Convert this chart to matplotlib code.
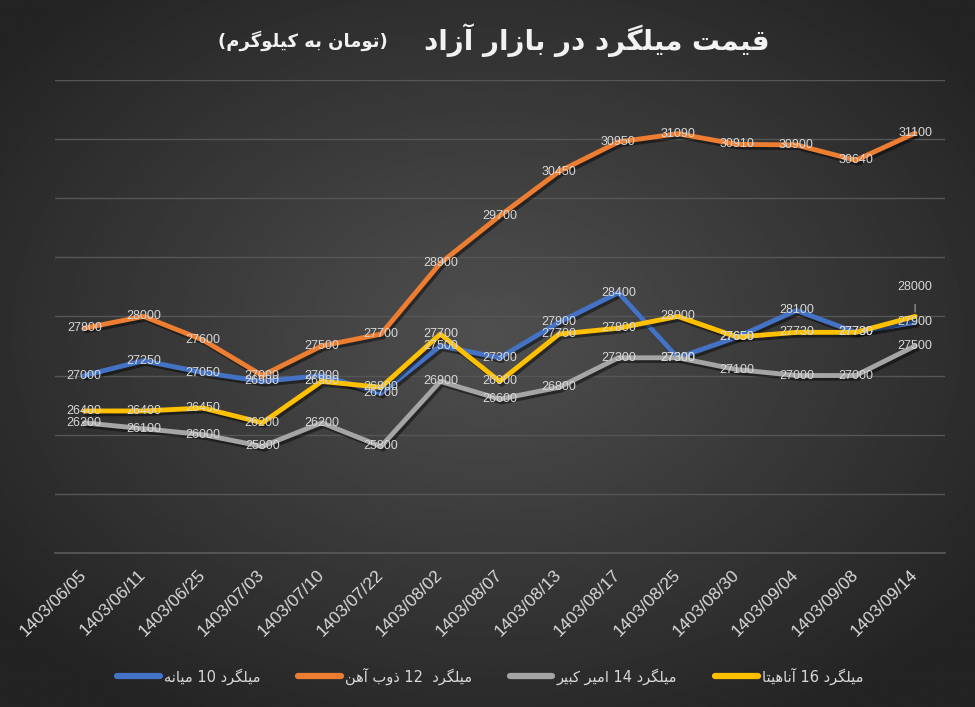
import matplotlib
matplotlib.use('Agg')
import numpy as np
import matplotlib.pyplot as plt
import matplotlib.patheffects as pe
from matplotlib.lines import Line2D

dates = ['1403/06/05', '1403/06/11', '1403/06/25', '1403/07/03', '1403/07/10',
         '1403/07/22', '1403/08/02', '1403/08/07', '1403/08/13', '1403/08/17',
         '1403/08/25', '1403/08/30', '1403/09/04', '1403/09/08', '1403/09/14']

mianeh_10 = [27000, 27250, 27050, 26900, 27000, 26700, 27500, 27300, 27900, 28400,
             27300, 27650, 28100, 27730, 27900]
zob_ahan_12 = [27800, 28000, 27600, 27000, 27500, 27700, 28900, 29700, 30450, 30950,
               31090, 30910, 30900, 30640, 31100]
amir_kabir_14 = [26200, 26100, 26000, 25800, 26200, 25800, 26900, 26600, 26800, 27300,
                 27300, 27100, 27000, 27000, 27500]
anahita_16 = [26400, 26400, 26450, 26200, 26900, 26800, 27700, 26900, 27700, 27800,
              28000, 27650, 27730, 27730, 28000]

series_names = ['میلگرد 10 میانه', 'میلگرد  12 ذوب آهن', 'میلگرد 14 امیر کبیر', 'میلگرد 16 آناهیتا']
title_main = 'قیمت میلگرد در بازار آزاد'
title_unit = 'تومان به کیلوگرم'

# matplotlib has no arabic joining / rtl, so do it by hand with presentation forms
FORMS = {
    'ا': ('\uFE8D', '\uFE8E'),
    'آ': ('\uFE81', '\uFE82'),
    'د': ('\uFEA9', '\uFEAA'),
    'ذ': ('\uFEAB', '\uFEAC'),
    'ر': ('\uFEAD', '\uFEAE'),
    'ز': ('\uFEAF', '\uFEB0'),
    'و': ('\uFEED', '\uFEEE'),
    'ب': ('\uFE8F', '\uFE90', '\uFE91', '\uFE92'),
    'ت': ('\uFE95', '\uFE96', '\uFE97', '\uFE98'),
    'ق': ('\uFED5', '\uFED6', '\uFED7', '\uFED8'),
    'ل': ('\uFEDD', '\uFEDE', '\uFEDF', '\uFEE0'),
    'م': ('\uFEE1', '\uFEE2', '\uFEE3', '\uFEE4'),
    'ن': ('\uFEE5', '\uFEE6', '\uFEE7', '\uFEE8'),
    'ه': ('\uFEE9', '\uFEEA', '\uFEEB', '\uFEEC'),
    'ک': ('\uFB8E', '\uFB8F', '\uFB90', '\uFB91'),
    'گ': ('\uFB92', '\uFB93', '\uFB94', '\uFB95'),
    'ی': ('\uFBFC', '\uFBFD', '\uFBFE', '\uFBFF'),
}
DUAL = set('بتقلمنهکگی')


def shape_word(w):
    out = []
    for i, ch in enumerate(w):
        if ch not in FORMS:
            out.append(ch)
            continue
        f = FORMS[ch]
        prev = i > 0 and w[i - 1] in DUAL
        nxt = i < len(w) - 1 and ch in DUAL and w[i + 1] in FORMS
        if prev and nxt:
            out.append(f[3])
        elif prev:
            out.append(f[1])
        elif nxt:
            out.append(f[2])
        else:
            out.append(f[0])
    return ''.join(reversed(out))


def fa(text):
    parts = text.split(' ')
    return ' '.join(shape_word(p) if any(c in FORMS for c in p) else p for p in reversed(parts))


fig = plt.figure(figsize=(9.75, 7.07), dpi=100)

# radial dark background like the excel style
bg = fig.add_axes([0, 0, 1, 1], zorder=-10)
yy, xx = np.mgrid[0:1:300j, 0:1:400j]
r = np.sqrt(((xx - 0.5) / 0.75) ** 2 + ((yy - 0.47) / 0.75) ** 2)
grad = np.clip(0.31 - 0.2 * r, 0.14, 0.32)
bg.imshow(grad, cmap='gray', vmin=0, vmax=1, aspect='auto', extent=[0, 1, 0, 1], origin='upper')
bg.axis('off')

ax = fig.add_axes([0.056, 0.218, 0.913, 0.669])
ax.patch.set_alpha(0)

colors = ['#4472C4', '#ED7D31', '#A5A5A5', '#FFC000']
all_series = [mianeh_10, zob_ahan_12, amir_kabir_14, anahita_16]
x = np.arange(len(dates))

shadow = [pe.SimpleLineShadow(offset=(1.5, -2), shadow_color='black', alpha=0.45), pe.Normal()]
for k, (vals, c) in enumerate(zip(all_series, colors)):
    ax.plot(x, vals, color=c, lw=3.5, solid_capstyle='round', solid_joinstyle='round',
            path_effects=shadow, zorder=3 + k)

lab_color = '#d9d9d9'
for k, vals in enumerate(all_series):
    for i, v in enumerate(vals):
        if k == 3 and i == len(vals) - 1:
            ax.annotate(str(v), (i, v), xytext=(0, 21), textcoords='offset points',
                        ha='center', va='center', color=lab_color, fontsize=9,
                        family='Liberation Sans', zorder=20,
                        arrowprops=dict(arrowstyle='-', color='#a6a6a6', lw=0.8,
                                        shrinkA=6, shrinkB=3))
            continue
        ax.annotate(str(v), (i, v), ha='center', va='center', color=lab_color,
                    fontsize=9, family='Liberation Sans', zorder=20)

ax.set_xlim(-0.5, len(dates) - 0.5)
ax.set_ylim(24000, 32000)
ax.set_yticks(np.arange(24000, 32001, 1000))
ax.set_yticklabels([])
ax.tick_params(axis='y', length=0)
ax.grid(axis='y', color='#565656', lw=1.0)
ax.set_axisbelow(True)
for s in ['top', 'right', 'left']:
    ax.spines[s].set_visible(False)
ax.spines['bottom'].set_color('#5a5a5a')
ax.spines['bottom'].set_linewidth(1.2)

ax.set_xticks(x)
ax.set_xticklabels(dates, fontsize=12.5, color=lab_color, family='Liberation Sans')
ax.tick_params(axis='x', length=0, pad=14)
for t in ax.get_xticklabels():
    t.set_rotation(45)
    t.set_ha('right')
    t.set_va('center')
    t.set_rotation_mode('anchor')

handles = [Line2D([0], [0], color=c, lw=4.5, solid_capstyle='round') for c in colors]
fig.legend(handles, [fa(n) for n in series_names], loc='center', bbox_to_anchor=(0.503, 0.044),
           ncol=4, frameon=False, handlelength=2.9, handletextpad=0.3,
           columnspacing=2.6, labelcolor=lab_color, prop={'family': 'DejaVu Sans', 'size': 10.5})

fig.text(770 / 975, 1 - 40 / 707, fa(title_main), ha='right', va='center', fontsize=20,
         fontweight='bold', color='#f2f2f2', family='DejaVu Sans')
fig.text(388 / 975, 1 - 41 / 707, '(' + fa(title_unit) + ')', ha='right', va='center', fontsize=13,
         fontweight='bold', color='#f2f2f2', family='DejaVu Sans')

fig.savefig('out.png', dpi=100)
